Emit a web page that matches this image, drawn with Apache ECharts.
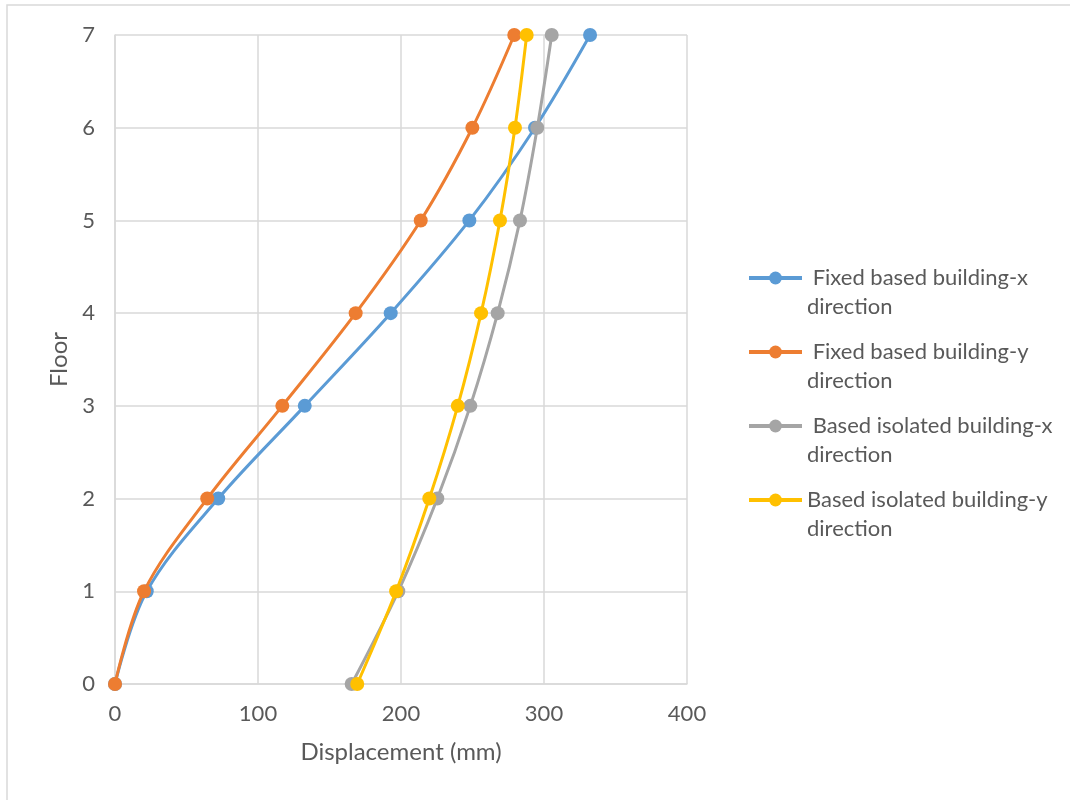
<!DOCTYPE html>
<html>
<head>
<meta charset="utf-8">
<title>Floor displacement</title>
<script src="https://cdn.jsdelivr.net/npm/echarts@6/dist/echarts.min.js"></script>
<style>
  html, body { margin: 0; padding: 0; background: #fff; }
  #chart { width: 1070px; height: 800px; }
</style>
</head>
<body>
<div id="chart"></div>
<script>
// Storey levels
const floors = [0, 1, 2, 3, 4, 5, 6, 7];

// Peak displacement per storey (mm)
const fixedX = [0, 22.2, 72.2, 132.7, 192.8, 247.8, 293.7, 332.2];
const fixedY = [0, 20.3, 64.5, 117.0, 168.3, 213.8, 249.9, 279.2];
const isolatedX = [165.5, 198.1, 225.4, 248.5, 267.6, 283.2, 295.3, 305.4];
const isolatedY = [169.4, 196.6, 219.8, 239.7, 256.0, 269.2, 279.7, 287.9];

const seriesNames = [
  ' Fixed based building-x\ndirection',
  ' Fixed based building-y\ndirection',
  ' Based isolated building-x\ndirection',
  'Based isolated building-y\ndirection'
];
const seriesColors = ['#5b9bd5', '#ed7d31', '#a5a5a5', '#ffc000'];
const seriesValues = [fixedX, fixedY, isolatedX, isolatedY];

const FONT = 'Lato, "Open Sans", "Liberation Sans", sans-serif';
const TEXT = '#595959';
const LEGEND_LINE = 29;

const chart = echarts.init(document.getElementById('chart'), null, { renderer: 'canvas' });

chart.setOption({
  backgroundColor: '#ffffff',
  animation: false,
  textStyle: { fontFamily: FONT },
  graphic: [{
    type: 'rect',
    shape: { x: 7, y: 5, width: 1100, height: 850 },
    style: { fill: 'none', stroke: '#d9d9d9', lineWidth: 1.5 },
    silent: true
  }],
  grid: { left: 115, top: 35, width: 572, height: 649, containLabel: false },
  legend: {
    orient: 'vertical',
    left: 747,
    top: 278 - 1.5 * LEGEND_LINE,
    padding: 0,
    itemWidth: 53,
    itemHeight: 16,
    itemGap: 74 - 3 * LEGEND_LINE,
    lineStyle: { width: 4 },
    // a leading blank line keeps the marker level with the first text line
    formatter: name => '\n' + name,
    textStyle: { fontFamily: FONT, fontSize: 22, color: TEXT, lineHeight: LEGEND_LINE },
    data: seriesNames
  },
  xAxis: {
    type: 'value',
    min: 0,
    max: 400,
    interval: 100,
    name: 'Displacement (mm)',
    nameLocation: 'middle',
    nameGap: 56,
    nameTextStyle: { fontFamily: FONT, fontSize: 24, color: TEXT },
    axisLine: { show: true, lineStyle: { color: '#d9d9d9', width: 1.5 } },
    axisTick: { show: false },
    axisLabel: { fontFamily: FONT, fontSize: 22, color: TEXT, margin: 19 },
    splitLine: { show: true, lineStyle: { color: '#d9d9d9', width: 1.5 } }
  },
  yAxis: {
    type: 'value',
    min: 0,
    max: 7,
    interval: 1,
    name: 'Floor',
    nameLocation: 'middle',
    nameRotate: 90,
    nameGap: 44,
    nameTextStyle: { fontFamily: FONT, fontSize: 24, color: TEXT },
    axisLine: { show: true, lineStyle: { color: '#d9d9d9', width: 1.5 } },
    axisTick: { show: false },
    axisLabel: { fontFamily: FONT, fontSize: 22, color: TEXT, margin: 20 },
    splitLine: { show: true, lineStyle: { color: '#d9d9d9', width: 1.5 } }
  },
  series: seriesValues.map((vals, i) => ({
    name: seriesNames[i],
    type: 'line',
    smooth: 0.35,
    symbol: 'circle',
    symbolSize: 14,
    color: seriesColors[i],
    lineStyle: { width: 3, color: seriesColors[i] },
    itemStyle: { color: seriesColors[i] },
    data: vals.map((v, k) => [v, floors[k]]),
    z: 2 + i
  }))
});
</script>
</body>
</html>
